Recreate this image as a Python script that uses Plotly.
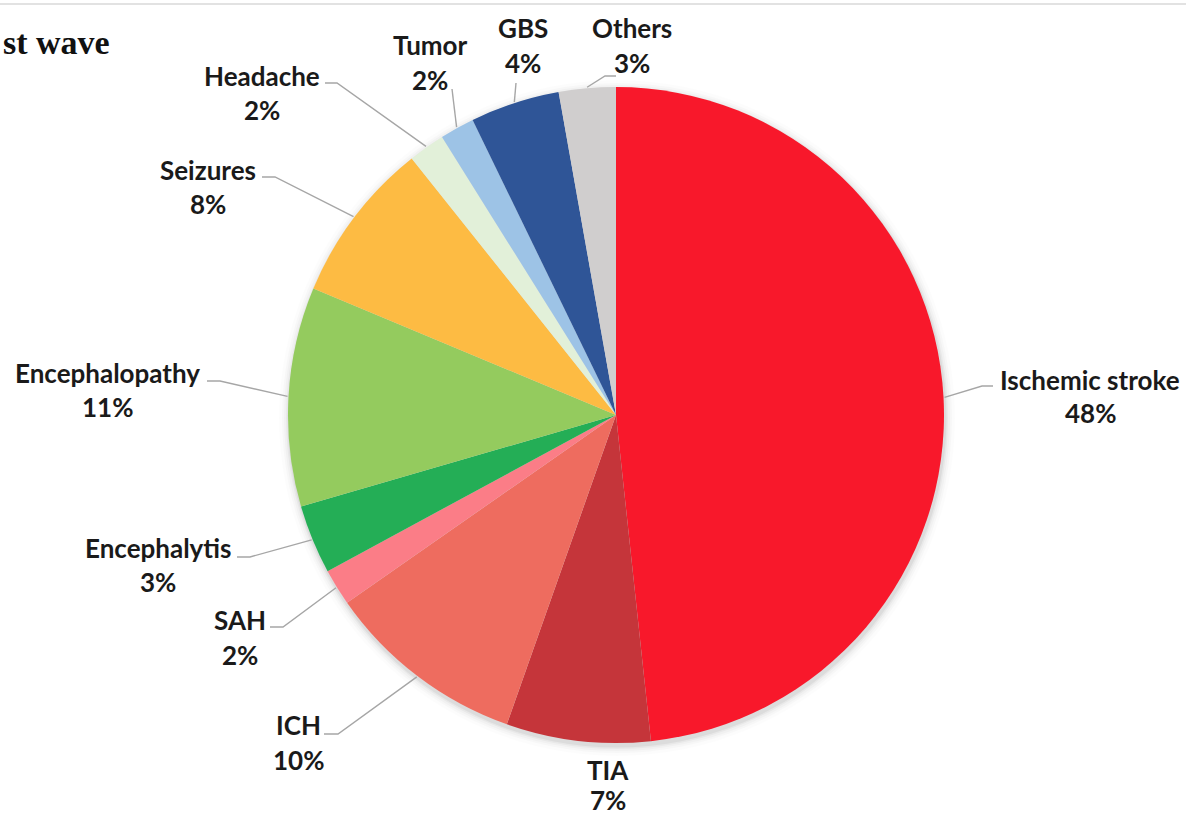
import math
import plotly.graph_objects as go

# ---- data ----
categories = ["Ischemic stroke", "TIA", "ICH", "SAH", "Encephalytis", "Encephalopathy",
              "Seizures", "Headache", "Tumor", "GBS", "Others"]
values = [48.3, 7.1, 9.9, 1.8, 3.4, 10.8, 8.0, 1.8, 1.7, 4.4, 2.8]
colors = ["#F8182B", "#C5353A", "#EE6C5F", "#FB7D87", "#24AE56", "#94CB5E",
          "#FDBB43", "#E2F0D9", "#9DC3E6", "#2F5597", "#D0CECE"]
title_text = "st wave"

# ---- layout (pixels) ----
W, H = 1186, 817
CX, CY, R = 616, 415, 328

# label placement: name centre (x, y), pct y, leader bend points (from label side)
label_layout = {
    "Ischemic stroke": dict(x=1090, yn=380, yp=413, pts=[(993, 386), (982, 386)]),
    "TIA":             dict(x=608, yn=770, yp=800, pts=None),
    "ICH":             dict(x=298, yn=725, yp=760, pts=[(324, 734), (338, 734)]),
    "SAH":             dict(x=240, yn=620, yp=655, pts=[(270, 627), (283, 627)]),
    "Encephalytis":    dict(x=158, yn=548, yp=582, pts=[(237, 557), (250, 557)]),
    "Encephalopathy":  dict(x=107, yn=373, yp=407, pts=[(207, 381), (220, 381)]),
    "Seizures":        dict(x=208, yn=170, yp=204, pts=[(262, 177), (275, 177)]),
    "Headache":        dict(x=262, yn=76, yp=110, pts=[(325, 83), (337, 83)]),
    "Tumor":           dict(x=430, yn=45, yp=80, pts=[(452, 89)]),
    "GBS":             dict(x=523, yn=28, yp=63, pts=[(516, 83)]),
    "Others":          dict(x=632, yn=28, yp=63, pts=[(616, 76), (605, 76)]),
}

def px(x):
    return x / W

def py(y):
    return 1 - y / H

fig = go.Figure(go.Pie(
    labels=categories, values=values, sort=False, direction="clockwise", rotation=0,
    marker=dict(colors=colors, line=dict(width=0)),
    textinfo="none", hoverinfo="label+percent", showlegend=False,
    domain=dict(x=[px(CX - R), px(CX + R)], y=[py(CY + R), py(CY - R)]),
))

shapes = []
# soft shadow under the pie
for k, a in [(10, 0.012), (7, 0.018), (5, 0.025), (3, 0.035), (1.5, 0.05)]:
    shapes.append(dict(type="circle", xref="paper", yref="paper", layer="below",
                       x0=px(CX - R - k + 1), x1=px(CX + R + k + 1),
                       y0=py(CY + R + k + 3), y1=py(CY - R - k + 3),
                       fillcolor=f"rgba(0,0,0,{a})", line=dict(width=0)))
# top border line
shapes.append(dict(type="line", xref="paper", yref="paper", x0=0, x1=1,
                   y0=py(4), y1=py(4), line=dict(color="#D9D9D9", width=1.5)))

annotations = []
total = sum(values)
cum = 0.0
font = dict(family="Lato", size=26, color="#1A1A1A")
for name, v in zip(categories, values):
    mid = (cum + v / 2) / total * 2 * math.pi
    cum += v
    ex = CX + (R + 1) * math.sin(mid)
    ey = CY - (R + 1) * math.cos(mid)
    lay = label_layout[name]
    if lay["pts"]:
        pts = lay["pts"] + [(ex, ey)]
        path = "M " + " L ".join(f"{px(a):.6f},{py(b):.6f}" for a, b in pts)
        shapes.append(dict(type="path", xref="paper", yref="paper", path=path,
                           line=dict(color="#A6A6A6", width=1.4)))
    pct = round(v / total * 100)
    annotations.append(dict(text=f"<b>{name}</b>", x=px(lay["x"]), y=py(lay["yn"]),
                            xref="paper", yref="paper", showarrow=False,
                            xanchor="center", yanchor="middle", font=font))
    annotations.append(dict(text=f"<b>{pct}%</b>", x=px(lay["x"]), y=py(lay["yp"]),
                            xref="paper", yref="paper", showarrow=False,
                            xanchor="center", yanchor="middle", font=font))

annotations.append(dict(text=f"<b>{title_text}</b>", x=px(1), y=py(43),
                        xref="paper", yref="paper", showarrow=False,
                        xanchor="left", yanchor="middle",
                        font=dict(family="Liberation Serif", size=34, color="#111111")))

fig.update_layout(width=W, height=H, margin=dict(l=0, r=0, t=0, b=0),
                  paper_bgcolor="white", plot_bgcolor="white",
                  shapes=shapes, annotations=annotations)

fig.write_html("out.html", config={"displayModeBar": False},
               post_script="document.body.style.margin='0';document.body.style.overflow='hidden';")
